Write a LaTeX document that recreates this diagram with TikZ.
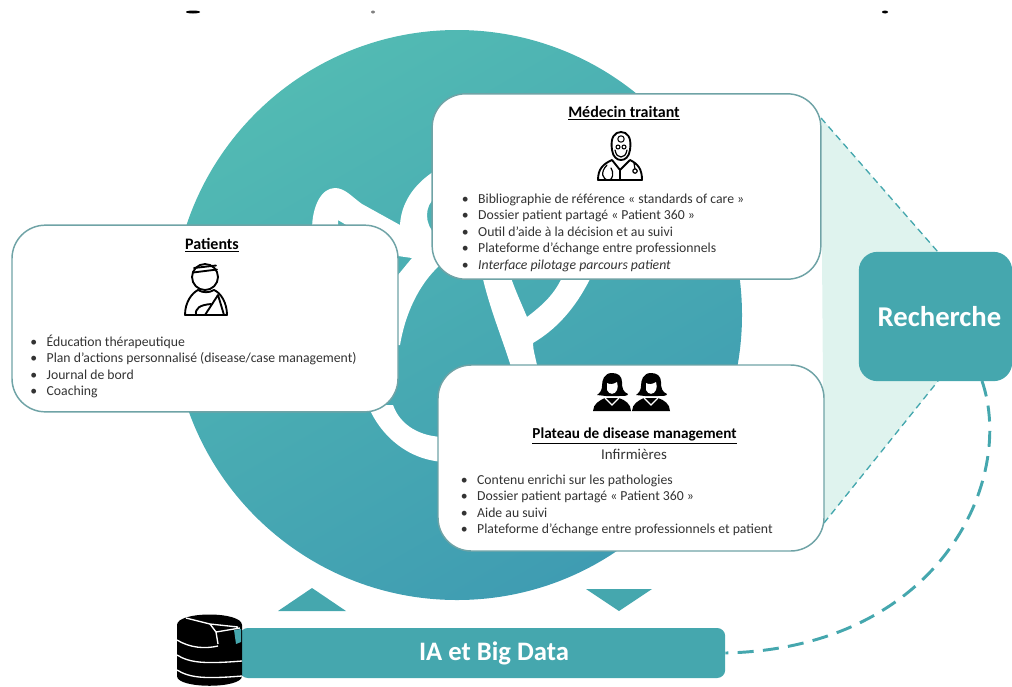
\documentclass[tikz,border=0pt]{standalone}
\usepackage{fontspec}
\setmainfont{Carlito}
\definecolor{sarcelle}{HTML}{45A7AE}
\definecolor{cercleA}{HTML}{52BAB3}
\definecolor{cercleB}{HTML}{3F9CB2}
\definecolor{bordure}{HTML}{6FA3A6}
\definecolor{menthe}{HTML}{DFF3EE}
\definecolor{texte}{HTML}{333333}
\tikzstyle{carte}=[draw=bordure,line width=1.1pt,fill=white,rounded corners=25pt,inner sep=0pt]
\tikzstyle{bloc}=[fill=sarcelle,inner sep=0pt]
\tikzstyle{titre}=[font=\fontsize{12}{14}\selectfont\bfseries,text=black,inner sep=0pt]
\tikzstyle{soustitre}=[font=\fontsize{11.2}{14}\selectfont,text=texte,inner sep=0pt]
\tikzstyle{puce}=[font=\fontsize{10.3}{12}\selectfont,text=texte,anchor=base west,inner sep=0pt]
\tikzstyle{tiret}=[draw=sarcelle,line width=1pt,dash pattern=on 5pt off 3.5pt]
\tikzstyle{gros tiret}=[draw=sarcelle,line width=2.2pt,dash pattern=on 12pt off 7pt]
\tikzstyle{trait}=[draw=black,line width=1.4pt,line join=round,line cap=round]
\newcommand{\puceitem}[1]{\makebox[12.3pt][l]{\textbullet}#1}
\begin{document}
\begin{tikzpicture}[x=0.75pt,y=-0.75pt]
  \useasboundingbox (0,0) rectangle (1012,686);
    % Traces of the cut title
    \foreach \pos/\demi/\teinte in {{(193,12)/7/black},{(373,12)/2/gray},{(885,12)/3/black}}
        \fill[\teinte] \pos ellipse ({\demi} and 1.5);
    % First we draw the disc and its white ribbons
    \shade[top color=cercleA,bottom color=cercleB,shading angle=30] (457,315) circle (285);
    \fill[white] (312,230) .. controls (312,205) and (322,188) .. (335,188)
        .. controls (345,188) and (352,197) .. (362,204) -- (400,225)
        .. controls (401,205) and (412,185) .. (436,170) -- (436,197)
        .. controls (424,205) and (424,225) .. (436,235) -- (440,265)
        .. controls (418,285) and (405,315) .. (400,345) -- (392,345)
        -- (398,275) -- (412,258) -- (398,256) -- (338,220) -- (338,230) -- cycle;
    \fill[white] (482,275) .. controls (490,310) and (503,340) .. (512,370) -- (538,370)
        .. controls (535,355) and (533,350) .. (533,343)
        .. controls (555,330) and (575,310) .. (592,275) -- (563,275)
        .. controls (555,295) and (540,307) .. (527,317)
        .. controls (522,305) and (515,290) .. (510,275) -- cycle;
    \fill[white] (368,405) .. controls (375,425) and (400,460) .. (445,462) -- (445,437)
        .. controls (420,437) and (400,425) .. (393,405) -- cycle;
    % Then the boxes
    \coordinate (rechhaut) at (938,252);
    \coordinate (rechbas) at (938,381);
    \coordinate (coinmedecin) at (821,118);
    \coordinate (coinplateau) at (824,523);
    \fill[menthe] (coinmedecin) -- (rechhaut) -- (rechbas) -- (coinplateau) -- cycle;
    \path[tiret] (coinmedecin) -- (rechhaut);
    \path[tiret] (coinplateau) -- (rechbas);
    \node[bloc,rounded corners=14pt,minimum width=115pt,minimum height=97pt] (recherche) at (935.5,316.5) {};
    \node[carte,minimum width=289.5pt,minimum height=140pt] (patients) at (205,318.5) {};
    \node[carte,minimum width=291.5pt,minimum height=139pt] (medecin) at (626.5,186.5) {};
    \node[carte,minimum width=289.5pt,minimum height=139.5pt] (plateau) at (631,458) {};
    \node[bloc,rounded corners=6pt,minimum width=364pt,minimum height=37.5pt] (bigdata) at (482.5,653) {};
    \fill[sarcelle] (278,611) -- (312,588) -- (346,611) -- cycle;
    \fill[sarcelle] (586,589) -- (652,589) -- (619,611) -- cycle;
    % Connect the research block and the data bar
    \coordinate (departcourbe) at (982,381);
    \draw[gros tiret] (departcourbe) .. controls (1016,480) and (940,648) .. (bigdata.east);
    % Titles and lists
    \node[titre] (tpatients) at (212,245) {\underline{Patients}};
    \node[titre] (tmedecin) at (624,113) {\underline{Médecin traitant}};
    \node[titre,font=\fontsize{11.4}{14}\selectfont\bfseries] (tplateau) at (634.5,436) {\underline{Plateau de disease management}};
    \node[soustitre] (tinfirm) at (634,454) {Infirmières};
    \foreach \y/\nom/\ligne in {346/pa/{Éducation thérapeutique},
                                362/pb/{Plan d’actions personnalisé (disease/case management)},
                                379/pc/{Journal de bord},
                                395/pd/{Coaching}}
        \node[puce] (\nom) at (30,\y) {\puceitem{\ligne}};
    \foreach \y/\nom/\ligne in {203/ma/{Bibliographie de référence « standards of care »},
                                219/mb/{Dossier patient partagé « Patient 360 »},
                                236/mc/{Outil d’aide à la décision et au suivi},
                                252/md/{Plateforme d’échange entre professionnels},
                                269/me/{\textit{Interface pilotage parcours patient}}}
        \node[puce] (\nom) at (461.5,\y) {\puceitem{\ligne}};
    \foreach \y/\nom/\ligne in {484/ia/{Contenu enrichi sur les pathologies},
                                500/ib/{Dossier patient partagé « Patient 360 »},
                                517/ic/{Aide au suivi},
                                533/id/{Plateforme d’échange entre professionnels et patient}}
        \node[puce] (\nom) at (460.5,\y) {\puceitem{\ligne}};
    \node[font=\fontsize{21.5}{24}\selectfont\bfseries,text=white,inner sep=0pt] (trecherche) at (939.5,317) {Recherche};
    \node[font=\fontsize{20}{24}\selectfont\bfseries,text=white,inner sep=0pt] (tbigdata) at (494,653) {IA et Big Data};
    % Patient icon
    \draw[trait] (205,277) circle (13);
    \draw[trait] (193,272.5) -- (217,269.5) (194,268) -- (216,265.5);
    \draw[trait] (185,315) .. controls (185,302) and (192,293) .. (198,290)
        .. controls (203,293) and (209,293) .. (214,290)
        .. controls (221,293) and (227,303) .. (227,315) -- cycle;
    \draw[trait] (205,315) -- (218,295) -- (224,315);
    \draw[trait] (196,315) .. controls (195,308) and (200,305) .. (211,304);
    % Doctor icon
    \draw[trait] (612,150) .. controls (610,137) and (615,132) .. (621,132)
        .. controls (627,132) and (632,137) .. (630,150)
        .. controls (629,157) and (625,160) .. (621,160)
        .. controls (617,160) and (613,157) .. (612,150) -- cycle;
    \draw[trait,line width=0.8pt] (621,139) circle (3.2);
    \draw[trait,line width=0.8pt] (618,147) circle (2) (624,147) circle (2);
    \draw[trait,line width=0.9pt] (615,150) .. controls (616,155) and (618,157) .. (621,157)
        .. controls (624,157) and (626,155) .. (627,150);
    \draw[trait] (598,180) .. controls (598,169) and (603,164) .. (612,160) -- (620,170)
        -- (630,160) .. controls (638,164) and (642,169) .. (642,180) -- cycle;
    \draw[trait] (620,170) -- (620,180);
    \draw[trait,line width=0.9pt] (607,165) .. controls (600,172) and (602,180) .. (609,180)
        .. controls (613,180) and (614,172) .. (611,168);
    \draw[trait,line width=0.9pt] (634,163) -- (635,169);
    \draw[trait,line width=0.9pt] (635,171) circle (2.2);
    % Nurse icons
    \foreach \dx in {0,39} {
    \begin{scope}[xshift=\dx*0.75pt]
        \fill[black] (612,373) .. controls (604,373) and (602,380) .. (602,386)
            .. controls (602,390) and (600,393) .. (597,395) -- (606,396) -- (618,396)
            .. controls (624,396) and (628,396) .. (628,394)
            .. controls (623,392) and (622,388) .. (622,382)
            .. controls (622,376) and (618,373) .. (612,373) -- cycle;
        \fill[white] (607,383) .. controls (610,385) and (614,384) .. (617,382)
            .. controls (618,385) and (618,388) .. (617,390)
            .. controls (615,395) and (609,395) .. (607,390) -- cycle;
        \fill[black] (593,411) .. controls (593,404) and (600,400) .. (605,398)
            -- (619,398) .. controls (625,400) and (631,404) .. (631,411) -- cycle;
        \draw[white,line width=0.9pt] (605,398) -- (612,405) -- (619,398);
    \end{scope}
    }
    % Database icon
    \fill[black] (177,625) .. controls (177,611) and (242,611) .. (242,625) -- (242,676)
        .. controls (242,689) and (177,689) .. (177,676) -- cycle;
    \fill[sarcelle] (234,630) -- (241,629) -- (241,642) -- (236,644) -- cycle;
    \draw[white,line width=1pt] (210,624) -- (186,618) (210,624) -- (238,627) (210,624) -- (216,632)
        -- (218,644) (216,632) -- (240,628);
    \foreach \y/\fin in {640/218,655/242,670/242}
        \draw[white,line width=1pt] (177,\y) .. controls (190,\y+8) and (205,\y+9) .. (\fin,\y+6);
\end{tikzpicture}
\end{document}
